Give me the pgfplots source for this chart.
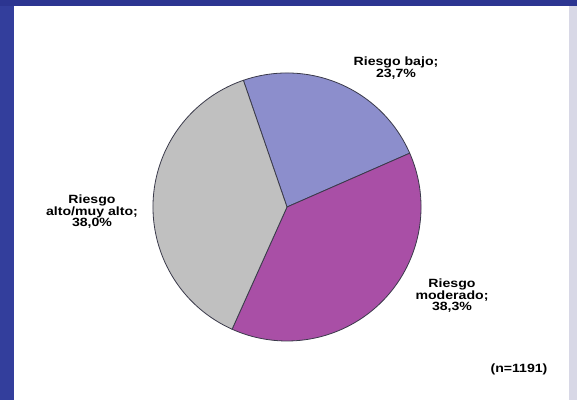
\documentclass[border=0pt]{standalone}
\usepackage{pgfplots}
\usepackage{pgfplotstable}
\pgfplotsset{compat=1.18}
\usepackage{fontspec}
\setmainfont{Liberation Sans}
\definecolor{bgblue}{HTML}{333E9C}
\definecolor{bgblue2}{HTML}{2C3591}
\definecolor{edgegray}{HTML}{D8D8E6}
\definecolor{sbajo}{HTML}{8C8ECC}
\definecolor{smod}{HTML}{A94FA6}
\definecolor{salto}{HTML}{C0C0C0}
\definecolor{outl}{HTML}{3A3A4A}
\pgfplotstableread{
label value
bajo 23.7
moderado 38.3
alto 38.0
}\pietable
\begin{document}
\begin{tikzpicture}
\pgfplotstablegetelem{0}{value}\of\pietable \let\vA\pgfplotsretval
\pgfplotstablegetelem{1}{value}\of\pietable \let\vB\pgfplotsretval
\pgfplotstablegetelem{2}{value}\of\pietable \let\vC\pgfplotsretval
\pgfmathsetmacro{\aA}{109}
\pgfmathsetmacro{\aB}{\aA-3.6*\vA}
\pgfmathsetmacro{\aC}{\aB-3.6*\vB}
\pgfmathsetmacro{\aD}{\aC-3.6*\vC}
\begin{axis}[
  width=577bp, height=400bp, scale only axis,
  xmin=0, xmax=577, ymin=0, ymax=400,
  hide axis, clip=false,
]
% background frame
\fill[bgblue] (axis cs:0,0) rectangle (axis cs:577,400);
\fill[bgblue2] (axis cs:0,394) rectangle (axis cs:577,400);
\fill[edgegray] (axis cs:569,0) rectangle (axis cs:577,394);
\fill[white] (axis cs:14,0) rectangle (axis cs:569,394);
% pie slices
\filldraw[fill=sbajo, draw=outl, line width=0.8bp]
  (axis cs:287,193) -- (axis cs:{287+134*cos(\aA)},{193+134*sin(\aA)})
  arc[start angle=\aA, end angle=\aB, radius=134bp] -- cycle;
\filldraw[fill=smod, draw=outl, line width=0.8bp]
  (axis cs:287,193) -- (axis cs:{287+134*cos(\aB)},{193+134*sin(\aB)})
  arc[start angle=\aB, end angle=\aC, radius=134bp] -- cycle;
\filldraw[fill=salto, draw=outl, line width=0.8bp]
  (axis cs:287,193) -- (axis cs:{287+134*cos(\aC)},{193+134*sin(\aC)})
  arc[start angle=\aC, end angle=\aD, radius=134bp] -- cycle;
% labels
\tikzset{lbl/.style={align=center, inner sep=0pt, xscale=1.18,
  font=\fontsize{12}{11.5}\selectfont\bfseries}}
\node[lbl] at (axis cs:396,332) {Riesgo bajo;\\23,7\%};
\node[lbl] at (axis cs:92,188) {Riesgo\\alto/muy alto;\\38,0\%};
\node[lbl] at (axis cs:452,104) {Riesgo\\moderado;\\38,3\%};
\node[lbl] at (axis cs:519,31) {(n=1191)};
\end{axis}
\end{tikzpicture}
\end{document}
